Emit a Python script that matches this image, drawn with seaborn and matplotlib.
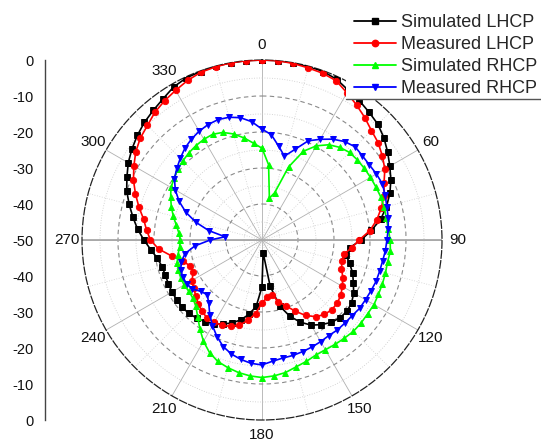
import numpy as np
import pandas as pd
import matplotlib
matplotlib.use("Agg")
import matplotlib.pyplot as plt
import seaborn as sns
from matplotlib.lines import Line2D
from matplotlib.patches import Rectangle

# ---- radiation pattern data (dB), sampled every 5 degrees from 0 to 355 ----
angles_deg = list(range(0, 360, 5))

sim_lhcp = [0.0, 0.0, 0.0, -0.1, -0.2, -0.8, -2.0, -2.8, -3.7, -4.5,
            -5.8, -7.4, -9.0, -10.5, -12.2, -14.2, -16.5, -19.5, -22.5, -25.5,
            -26.3, -24.8, -23.2, -22.0, -20.6, -19.6, -19.2, -19.4, -20.1, -21.3,
            -22.7, -24.8, -27.5, -31.0, -37.0, -46.5, -37.0, -31.5, -29.0, -27.0,
            -25.5, -24.2, -23.2, -22.3, -21.7, -21.2, -21.0, -21.1, -21.1, -21.3,
            -21.4, -21.3, -20.5, -19.0, -17.2, -15.3, -13.6, -11.8, -10.0, -8.6,
            -7.1, -5.9, -4.8, -3.8, -3.0, -2.1, -0.9, -0.3, -0.2, -0.1,
            0.0, 0.0]

meas_lhcp = [0.0, 0.0, -0.2, -0.5, -0.7, -1.2, -2.8, -4.2, -5.6, -7.0,
             -7.9, -9.2, -10.6, -12.6, -13.9, -15.7, -17.6, -19.9, -23.0, -25.0,
             -27.0, -27.0, -26.5, -25.2, -24.2, -23.3, -22.7, -22.6, -23.0, -24.0,
             -25.8, -28.2, -30.5, -32.3, -34.6, -34.0, -32.5, -29.5, -27.3, -25.5,
             -24.5, -23.8, -23.6, -23.4, -24.2, -24.9, -26.0, -26.8, -27.5, -29.0,
             -28.8, -27.3, -24.5, -21.2, -19.0, -17.8, -16.6, -14.6, -12.6, -10.6,
             -8.9, -7.2, -5.9, -5.0, -3.7, -2.8, -2.0, -1.1, -0.4, -0.2,
             0.0, 0.0]

sim_rhcp = [-24.5, -29.0, -38.2, -36.4, -28.4, -22.8, -19.8, -17.7, -16.4, -15.6,
            -15.4, -15.3, -15.2, -15.1, -14.9, -14.9, -14.9, -14.8, -14.4, -14.2,
            -14.6, -14.5, -14.4, -14.3, -14.1, -14.2, -14.1, -14.1, -14.4, -14.6,
            -14.8, -14.7, -14.1, -13.5, -12.6, -12.1, -11.8, -12.1, -12.6, -13.3,
            -14.1, -15.5, -17.5, -19.9, -22.2, -24.0, -24.9, -25.2, -25.0, -25.1,
            -25.3, -25.6, -26.3, -27.0, -27.3, -26.8, -25.8, -24.5, -23.2, -22.0,
            -20.8, -20.2, -19.4, -18.9, -18.4, -18.0, -17.7, -17.6, -18.2, -19.5,
            -21.2, -23.0]

meas_rhcp = [-19.2, -20.6, -23.5, -25.9, -23.2, -19.6, -17.7, -15.8, -14.3, -13.4,
             -13.6, -13.6, -13.3, -13.1, -13.6, -14.1, -14.4, -14.8, -15.3, -15.6,
             -16.0, -16.2, -16.3, -16.6, -16.8, -16.9, -17.3, -17.4, -17.4, -17.6,
             -17.4, -17.2, -17.0, -16.8, -16.7, -16.2, -15.3, -15.6, -16.3, -17.2,
             -18.5, -20.4, -22.5, -24.7, -27.0, -28.5, -27.8, -26.3, -25.8, -25.7,
             -26.0, -26.8, -28.3, -31.3, -35.6, -39.7, -35.0, -31.0, -27.5, -24.6,
             -22.2, -20.3, -19.1, -17.9, -16.7, -15.8, -15.1, -14.6, -14.4, -14.7,
             -15.5, -17.0]

series_names = ["Simulated LHCP", "Measured LHCP", "Simulated RHCP", "Measured RHCP"]
series_values = [sim_lhcp, meas_lhcp, sim_rhcp, meas_rhcp]
series_colors = ["#000000", "#ff0000", "#00ff00", "#0000ff"]
series_markers = ["s", "o", "^", "v"]

theta_ticks = list(range(0, 360, 30))
radial_ticks = [-40, -30, -20, -10]
r_min, r_max = -50, 0

# ---- long-form table, each pattern closed back onto 0 deg ----
frames = []
for name, vals in zip(series_names, series_values):
    frames.append(pd.DataFrame({
        "theta": np.deg2rad(angles_deg + [360]),
        "gain": list(vals) + [vals[0]],
        "series": name,
    }))
df = pd.concat(frames, ignore_index=True)

sns.set_theme(style="white")
plt.rcParams["font.family"] = ["Liberation Sans", "DejaVu Sans"]
plt.rcParams["axes.unicode_minus"] = False

W, H = 541, 443
fig = plt.figure(figsize=(W / 100, H / 100), dpi=100)
fig.patch.set_facecolor("white")

BOTTOM = 23  # pixel offset of the plot square from the lower edge

# polar pattern axes
ax = fig.add_axes([82 / W, BOTTOM / H, 360 / W, 360 / H], projection="polar")
ax.set_facecolor("white")
ax.set_theta_zero_location("N")
ax.set_theta_direction(-1)
ax.set_ylim(r_min, r_max)

for name, color, marker in zip(series_names, series_colors, series_markers):
    sns.lineplot(data=df[df["series"] == name], x="theta", y="gain",
                 sort=False, estimator=None, color=color, marker=marker,
                 markersize=4.6, markeredgecolor=color, markeredgewidth=0.6,
                 linewidth=1.2, ax=ax, legend=False, zorder=3)
ax.set_xlabel("")
ax.set_ylabel("")

# grid: dashed rings every 10 dB, dotted rings in between; spokes every 30 deg
ax.set_yticks(radial_ticks)
ax.set_yticks([-45, -35, -25, -15, -5], minor=True)
ax.set_yticklabels([])
ax.set_xticks(np.deg2rad(theta_ticks))
ax.set_xticks(np.deg2rad(list(range(15, 360, 30))), minor=True)
ax.set_xticklabels([str(t) for t in theta_ticks], fontsize=11, color="#111111")
ax.tick_params(axis="x", which="major", pad=4, length=0)
ax.tick_params(axis="x", which="minor", length=0)
ax.yaxis.grid(True, which="major", color="#8a8a8a", linestyle=(0, (4, 3)), linewidth=0.8)
ax.yaxis.grid(True, which="minor", color="#c8c8c8", linestyle=(0, (1, 2)), linewidth=0.6)
ax.xaxis.grid(True, which="major", color="#b0b0b0", linestyle="-", linewidth=0.6)
ax.xaxis.grid(True, which="minor", color="#cfcfcf", linestyle=(0, (1, 2)), linewidth=0.6)
ax.spines["polar"].set_linestyle((0, (6, 2)))
ax.spines["polar"].set_color("#222222")
ax.spines["polar"].set_linewidth(0.9)

# horizontal 90-270 reference axis
for th in (np.pi / 2, 3 * np.pi / 2):
    ax.plot([th, th], [r_min, r_max], color="#a8a8a8", linewidth=1.3, zorder=1)

# linear scale on the left, 0 at both rims and -50 at the centre
lax = fig.add_axes([45 / W, BOTTOM / H, 0.0001, 360 / H])
lax.set_facecolor("none")
lax.set_ylim(-50, 50)
major = np.arange(-50, 51, 10)
lax.set_yticks(major)
lax.set_yticklabels(["%d" % (abs(t) - 50) for t in major],
                    fontsize=10.5, color="#111111")
lax.set_yticks(np.arange(-45, 50, 10), minor=True)
lax.tick_params(axis="y", which="major", direction="out", length=6, width=0.9,
                color="#444444", pad=2)
lax.tick_params(axis="y", which="minor", direction="out", length=3, width=0.9,
                color="#444444")
lax.set_xticks([])
for side in ("top", "right", "bottom"):
    lax.spines[side].set_visible(False)
lax.spines["left"].set_color("#444444")
lax.spines["left"].set_linewidth(1.0)

# legend panel in the top-right corner
fig.add_artist(Rectangle((346 / W, 1 - 99 / H), 1 - 346 / W, 99 / H,
                         transform=fig.transFigure, facecolor="white",
                         edgecolor="none", zorder=2))
fig.add_artist(Line2D([346 / W, 1], [1 - 99 / H, 1 - 99 / H],
                      transform=fig.transFigure, color="#555555",
                      linewidth=1.0, zorder=3))
handles = [Line2D([], [], color=c, marker=m, markersize=4.6, markeredgecolor=c,
                  linewidth=1.3) for c, m in zip(series_colors, series_markers)]
fig.legend(handles, series_names, loc="upper left",
           bbox_to_anchor=(347 / W, 1 - 7 / H), frameon=False, fontsize=13,
           handlelength=2.3, handletextpad=0.3, labelspacing=0.28,
           borderpad=0.4, borderaxespad=0.0)

fig.savefig("out.png", dpi=100, facecolor="white")
